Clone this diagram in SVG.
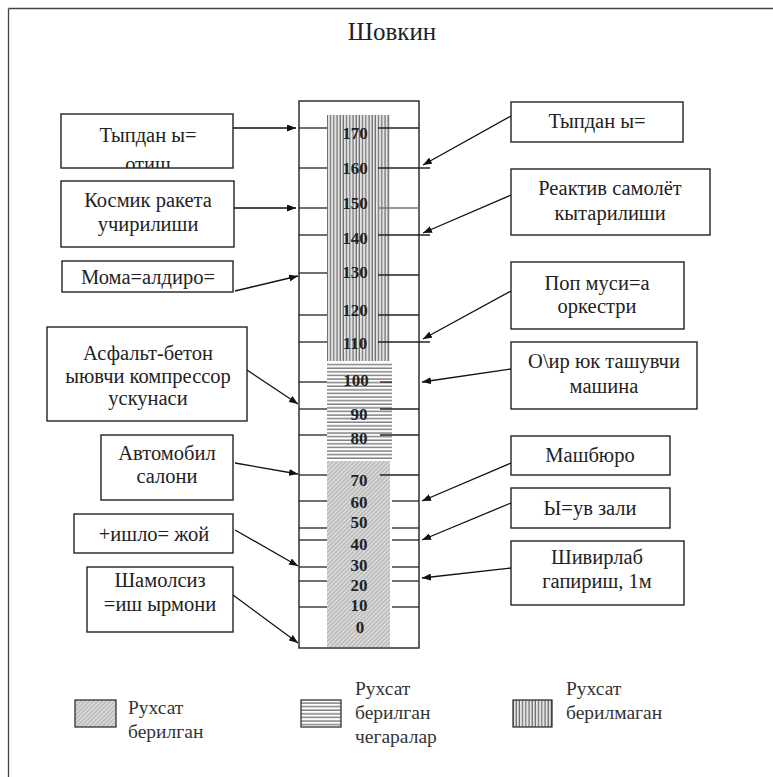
<svg xmlns="http://www.w3.org/2000/svg" width="773" height="777" viewBox="0 0 773 777">
<style>
.bx{fill:#fff;stroke:#222;stroke-width:1.4}
.t{font-family:"Liberation Serif","DejaVu Serif",serif;font-size:20.5px;fill:#222;text-anchor:middle}
.lg{font-family:"Liberation Serif","DejaVu Serif",serif;font-size:19.5px;fill:#333}
.n{font-family:"Liberation Serif","DejaVu Serif",serif;font-size:17px;font-weight:bold;fill:#222;text-anchor:middle}
.tk{stroke:#222;stroke-width:1.3}
.ar{stroke:#111;stroke-width:1.3;fill:none;marker-end:url(#ah)}
</style>
<defs>
<marker id="ah" markerWidth="9" markerHeight="7" refX="9" refY="3.5" orient="auto" markerUnits="userSpaceOnUse"><path d="M0,0 L9,3.5 L0,7 z" fill="#111"/></marker>
<pattern id="pv" width="3.2" height="10" patternUnits="userSpaceOnUse"><rect width="3.2" height="10" fill="#e4e4e4"/><line x1="1" y1="0" x2="1" y2="10" stroke="#555" stroke-width="1"/></pattern>
<pattern id="ph" width="10" height="3.6" patternUnits="userSpaceOnUse"><rect width="10" height="3.6" fill="#fff"/><line x1="0" y1="1" x2="10" y2="1" stroke="#444" stroke-width="1"/></pattern>
<pattern id="pd" width="3" height="10" patternUnits="userSpaceOnUse" patternTransform="rotate(45)"><rect width="3" height="10" fill="#e4e4e4"/><line x1="1" y1="0" x2="1" y2="10" stroke="#999" stroke-width="1"/></pattern>
<clipPath id="c1"><rect x="61" y="114" width="172" height="54"/></clipPath>
</defs>
<rect width="773" height="777" fill="#fff"/>
<line x1="8.5" y1="8.5" x2="773" y2="8.5" stroke="#444" stroke-width="1.3"/>
<line x1="8.5" y1="8.5" x2="8.5" y2="777" stroke="#444" stroke-width="1.3"/>
<text x="392" y="40" style="font-family:'Liberation Serif','DejaVu Serif',serif;font-size:25px;fill:#222;text-anchor:middle">Шовкин</text>

<g id="scale">
<rect x="299" y="101" width="120" height="547" fill="#fff" stroke="#222" stroke-width="1.4"/>
<rect x="327" y="115" width="63" height="246" fill="url(#pv)"/>
<rect x="327" y="362" width="65" height="98" fill="url(#ph)"/>
<rect x="327" y="461" width="63" height="186" fill="url(#pd)"/>
<g class="tk">
<line x1="299" y1="128" x2="327" y2="128"/><line x1="299" y1="168" x2="327" y2="168"/><line x1="299" y1="208" x2="327" y2="208"/><line x1="299" y1="235" x2="327" y2="235"/><line x1="299" y1="273" x2="327" y2="273"/><line x1="299" y1="315" x2="327" y2="315"/><line x1="299" y1="342" x2="327" y2="342"/><line x1="299" y1="382" x2="327" y2="382"/><line x1="299" y1="409" x2="327" y2="409"/><line x1="299" y1="435" x2="327" y2="435"/><line x1="299" y1="475" x2="327" y2="475"/><line x1="299" y1="501" x2="327" y2="501"/><line x1="299" y1="528" x2="327" y2="528"/><line x1="299" y1="540" x2="327" y2="540"/><line x1="299" y1="567" x2="327" y2="567"/><line x1="299" y1="581" x2="327" y2="581"/><line x1="299" y1="607" x2="327" y2="607"/>
<line x1="378" y1="128" x2="419" y2="128"/><line x1="378" y1="168" x2="430" y2="168"/><line x1="378" y1="208" x2="419" y2="208" stroke="#777"/><line x1="378" y1="235" x2="430" y2="235"/><line x1="378" y1="275" x2="419" y2="275"/><line x1="378" y1="315" x2="419" y2="315"/><line x1="378" y1="342" x2="430" y2="342"/><line x1="380" y1="382" x2="392" y2="382"/><line x1="380" y1="409" x2="419" y2="409"/><line x1="380" y1="435" x2="419" y2="435"/><line x1="380" y1="475" x2="419" y2="475"/><line x1="392" y1="501" x2="419" y2="501"/><line x1="392" y1="528" x2="419" y2="528"/><line x1="392" y1="540" x2="419" y2="540"/><line x1="392" y1="567" x2="419" y2="567"/><line x1="392" y1="581" x2="419" y2="581"/><line x1="392" y1="607" x2="419" y2="607"/>
</g>
<text class="n" x="355" y="139">170</text><text class="n" x="355" y="174">160</text><text class="n" x="355" y="209">150</text><text class="n" x="355" y="244">140</text><text class="n" x="355" y="278">130</text><text class="n" x="355" y="316">120</text><text class="n" x="355" y="349">110</text><text class="n" x="356" y="386">100</text><text class="n" x="359" y="420">90</text><text class="n" x="359" y="444">80</text><text class="n" x="359" y="486">70</text><text class="n" x="359" y="508">60</text><text class="n" x="359" y="528">50</text><text class="n" x="359" y="550">40</text><text class="n" x="359" y="571">30</text><text class="n" x="359" y="591">20</text><text class="n" x="359" y="611">10</text><text class="n" x="360" y="633">0</text>
</g>

<g id="L1"><rect class="bx" x="61" y="114" width="172" height="54"/><g clip-path="url(#c1)"><text class="t" x="148" y="142">Тыпдан ы=</text><text class="t" x="148" y="171">отиш</text></g></g>
<g id="L2"><rect class="bx" x="61" y="181" width="173" height="66"/><text class="t" x="148" y="207">Космик ракета</text><text class="t" x="148" y="231">учирилиши</text></g>
<g id="L3"><rect class="bx" x="62" y="261" width="171" height="31"/><text class="t" x="148" y="284">Мома=алдиро=</text></g>
<g id="L4"><rect class="bx" x="47" y="327" width="200" height="94"/><text class="t" x="148" y="360">Асфальт-бетон</text><text class="t" x="148" y="383">ыювчи компрессор</text><text class="t" x="148" y="405">ускунаси</text></g>
<g id="L5"><rect class="bx" x="101" y="435" width="132" height="65"/><text class="t" x="167" y="460">Автомобил</text><text class="t" x="167" y="483">салони</text></g>
<g id="L6"><rect class="bx" x="74" y="514" width="159" height="39"/><text class="t" x="154" y="541">+ишло= жой</text></g>
<g id="L7"><rect class="bx" x="87" y="567" width="146" height="65"/><text class="t" x="160" y="587">Шамолсиз</text><text class="t" x="160" y="611">=иш ырмони</text></g>

<g id="R1"><rect class="bx" x="511" y="102" width="172" height="40"/><text class="t" x="597" y="128">Тыпдан ы=</text></g>
<g id="R2"><rect class="bx" x="511" y="169" width="199" height="66"/><text class="t" x="610" y="195">Реактив самолёт</text><text class="t" x="610" y="220">кытарилиши</text></g>
<g id="R3"><rect class="bx" x="511" y="262" width="173" height="67"/><text class="t" x="597" y="290">Поп муси=а</text><text class="t" x="597" y="313">оркестри</text></g>
<g id="R4"><rect class="bx" x="511" y="342" width="186" height="67"/><text class="t" x="604" y="368">О\ир юк ташувчи</text><text class="t" x="604" y="393">машина</text></g>
<g id="R5"><rect class="bx" x="511" y="436" width="159" height="39"/><text class="t" x="590" y="462">Машбюро</text></g>
<g id="R6"><rect class="bx" x="511" y="488" width="159" height="40"/><text class="t" x="590" y="515">Ы=ув зали</text></g>
<g id="R7"><rect class="bx" x="511" y="541" width="173" height="64"/><text class="t" x="597" y="564">Шивирлаб</text><text class="t" x="597" y="588">гапириш, 1м</text></g>

<g id="connectors">
<path class="ar" d="M233,128 L296,128"/>
<path class="ar" d="M234,208 L296,208"/>
<path class="ar" d="M235,291 L298,276"/>
<path class="ar" d="M247,370 L298,404"/>
<path class="ar" d="M235,463 L298,474"/>
<path class="ar" d="M235,530 L298,566"/>
<path class="ar" d="M233,595 L298,643"/>
<path class="ar" d="M511,116 L423,165"/>
<path class="ar" d="M511,195 L423,233"/>
<path class="ar" d="M511,291 L423,339"/>
<path class="ar" d="M511,369 L422,382"/>
<path class="ar" d="M511,463 L422,501"/>
<path class="ar" d="M511,503 L422,540"/>
<path class="ar" d="M511,568 L422,578"/>
</g>

<g id="legend">
<rect x="75" y="700" width="41" height="27" fill="url(#pd)" stroke="#222" stroke-width="1.2"/>
<text class="lg" x="128" y="714">Рухсат</text><text class="lg" x="128" y="738">берилган</text>
<rect x="301" y="700" width="40" height="27" fill="url(#ph)" stroke="#222" stroke-width="1.2"/>
<text class="lg" x="355" y="695">Рухсат</text><text class="lg" x="355" y="719">берилган</text><text class="lg" x="355" y="743">чегаралар</text>
<rect x="513" y="700" width="39" height="27" fill="url(#pv)" stroke="#222" stroke-width="1.2"/>
<text class="lg" x="566" y="695">Рухсат</text><text class="lg" x="566" y="719">берилмаган</text>
</g>
</svg>
